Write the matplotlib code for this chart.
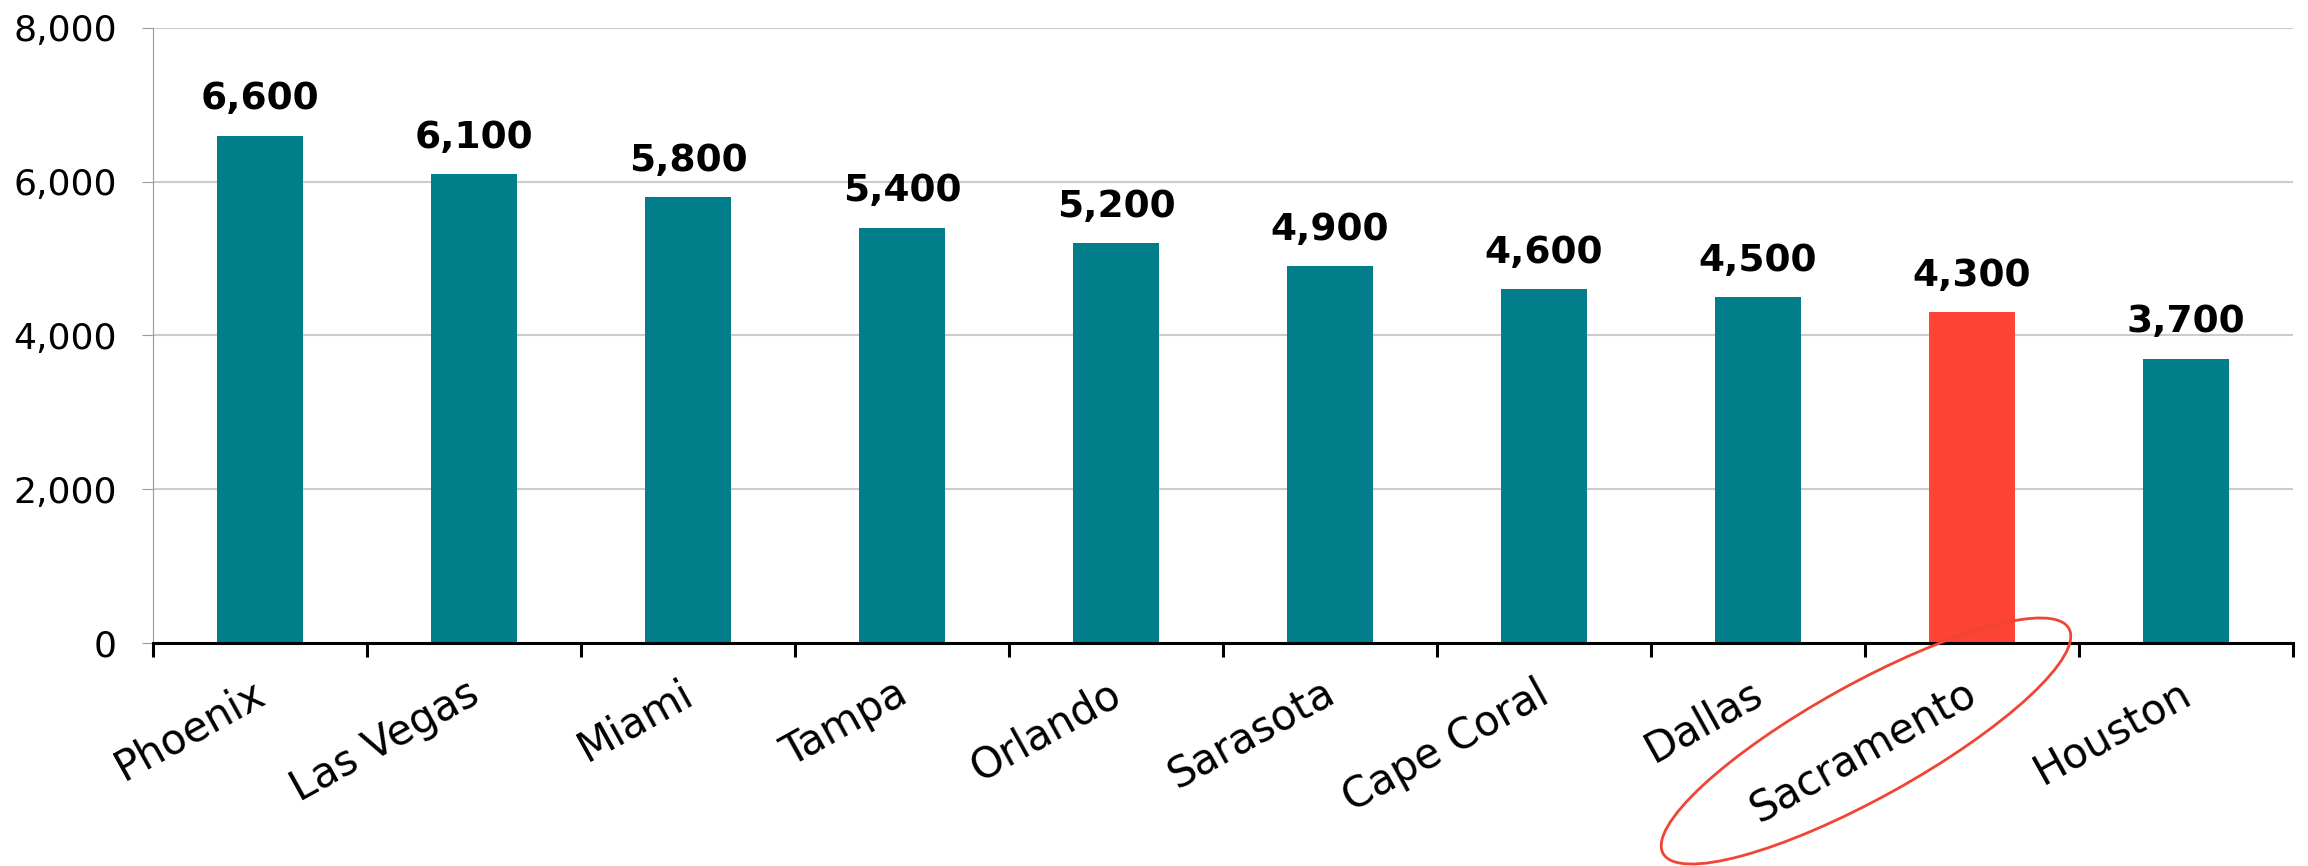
import matplotlib.pyplot as plt
from matplotlib.patches import Ellipse
import numpy as np

cities = ["Phoenix", "Las Vegas", "Miami", "Tampa", "Orlando",
          "Sarasota", "Cape Coral", "Dallas", "Sacramento", "Houston"]
values = [6600, 6100, 5800, 5400, 5200, 4900, 4600, 4500, 4300, 3700]
highlight = "Sacramento"

teal = "#027e8a"
red = "#fc4334"

fig = plt.figure(figsize=(23.08, 8.66), dpi=100)
ax = fig.add_axes([0.0663, 0.2575, 0.9272, 0.7102])

x = np.arange(len(cities))
colors = [red if c == highlight else teal for c in cities]
ax.bar(x, values, width=0.4, color=colors, zorder=3)

for xi, v in zip(x, values):
    ax.annotate(f"{v:,}", (xi, v), xytext=(0, 19), textcoords="offset points",
                ha="center", va="baseline", fontsize=27, fontweight="bold")

ax.set_xlim(-0.5, len(cities) - 0.5)
ax.set_ylim(0, 8000)
ax.set_yticks(np.arange(0, 8001, 2000))
ax.set_yticklabels([f"{t:,}" for t in range(0, 8001, 2000)], fontsize=26)
ax.grid(axis="y", color="#cccccc", linewidth=1.5, zorder=0)

# ticks sit between the bars, city names hang under each bar
ax.set_xticks(np.arange(-0.5, len(cities), 1))
ax.set_xticklabels([])
for xi, name in zip(x, cities):
    ax.annotate(name, (xi, 0), xytext=(-6, -21), textcoords="offset points",
                ha="right", va="top", rotation=29, rotation_mode="anchor",
                fontsize=30, annotation_clip=False)

ax.tick_params(axis="x", length=10, width=2.2, color="black")
ax.tick_params(axis="y", length=8, width=0.8, color="#999999", pad=18)

for side in ["top", "right"]:
    ax.spines[side].set_visible(False)
ax.spines["left"].set_color("#999999")
ax.spines["left"].set_linewidth(0.8)
ax.spines["bottom"].set_color("black")
ax.spines["bottom"].set_linewidth(2.2)
ax.spines["bottom"].set_zorder(4)

# circle the highlighted city name
ring = Ellipse((18.66, 1.25), width=4.64, height=1.14, angle=29,
               transform=fig.dpi_scale_trans, fill=False,
               edgecolor="#f04434", linewidth=2)
fig.add_artist(ring)

fig.savefig("out.png", dpi=100)
